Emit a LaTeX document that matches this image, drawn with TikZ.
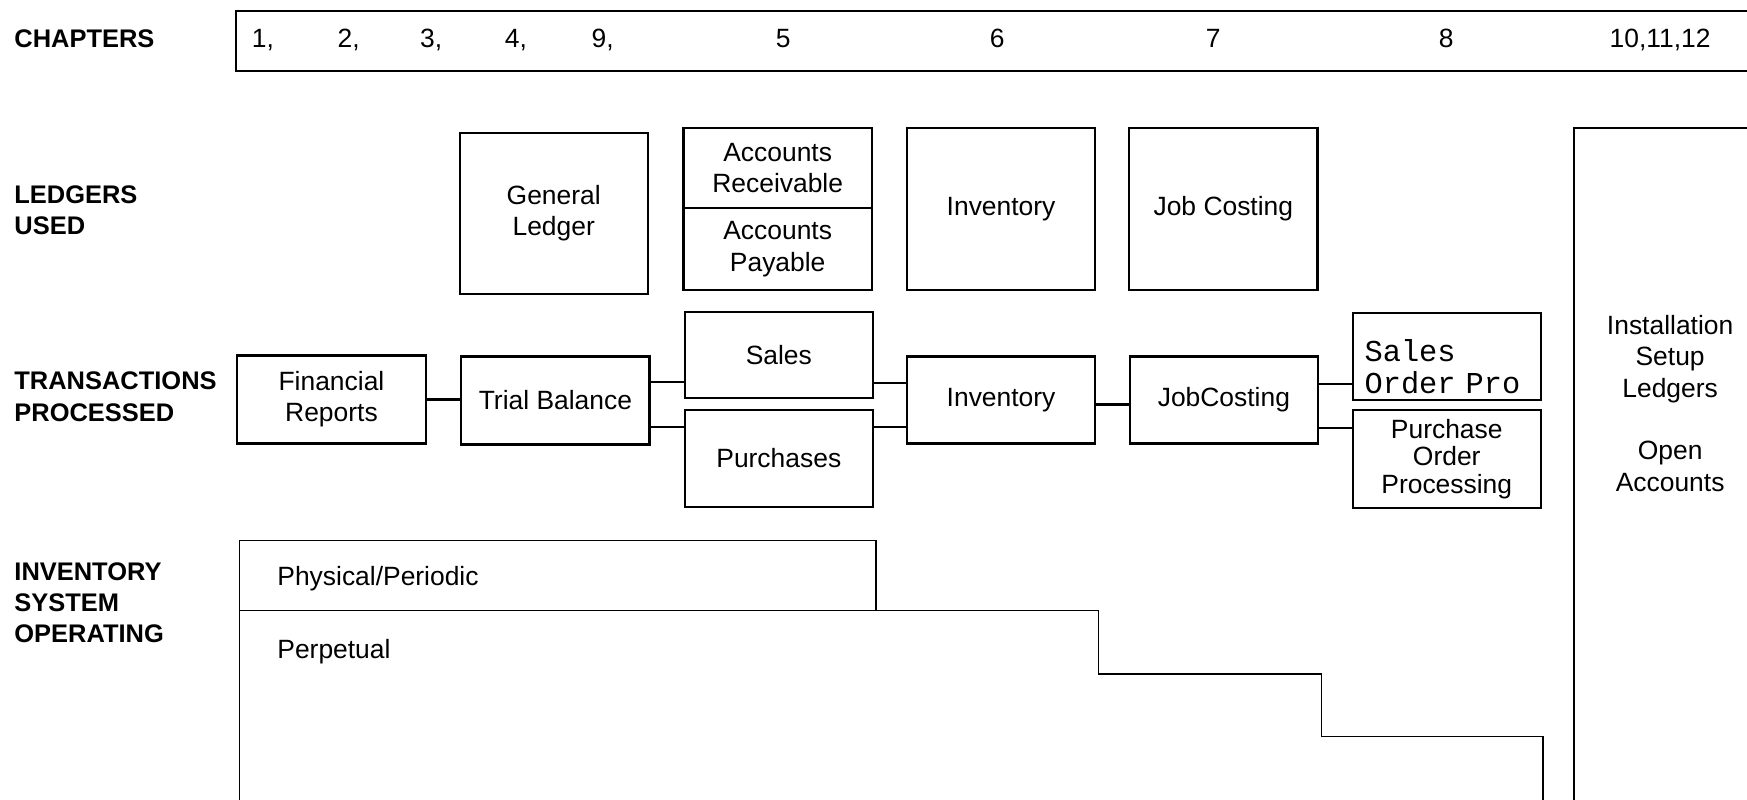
\documentclass[tikz,border=0pt]{standalone}
\usepackage{fontspec}
\setmainfont{Liberation Sans}
\newfontfamily\monofont{Liberation Mono}
\begin{document}
\begin{tikzpicture}[
    x=0.02cm, y=-0.02cm,
    line width=1.1pt,
    font=\fontsize{13.5}{16}\selectfont,
    box/.style={draw, minimum width=3.38cm, align=center, inner sep=0pt},
    rowlabel/.style={align=left, inner sep=0pt, font=\fontsize{13}{16}\selectfont\bfseries},
    chnum/.style={anchor=base, inner sep=0pt},
    outline/.style={line width=0.8pt}
]
    \useasboundingbox (0,0) rectangle (1568,718);
    \clip (0,0) rectangle (1568,718);

    % Row labels on the left
    \node[rowlabel, anchor=base west] (chapters) at (12,43) {CHAPTERS};
    \node[rowlabel, anchor=west] (ledgers) at (12,188.5) {LEDGERS\\USED};
    \node[rowlabel, anchor=west] (transactions) at (12,356) {TRANSACTIONS\\PROCESSED};
    \node[rowlabel, anchor=west] (invsystem) at (12,541) {INVENTORY\\SYSTEM\\OPERATING};

    % Chapter strip
    \draw (212,10) rectangle (1600,64);
    \node[chnum] (ch1) at (236,43) {1,};
    \node[chnum] (ch2) at (313,43) {2,};
    \node[chnum] (ch3) at (387,43) {3,};
    \node[chnum] (ch4) at (463,43) {4,};
    \node[chnum] (ch9) at (541,43) {9,};
    \node[chnum] (ch5) at (703,43) {5};
    \node[chnum] (ch6) at (895,43) {6};
    \node[chnum] (ch7) at (1089,43) {7};
    \node[chnum] (ch8) at (1298,43) {8};
    \node[chnum] (ch10) at (1490,43) {10,11,12};

    % Ledgers used
    \node[box, minimum height=2.9cm] (genledger) at (497,191.5) {General\\Ledger};
    \node[box, minimum height=1.44cm] (recv) at (698,151) {Accounts\\Receivable};
    \node[box, minimum height=1.46cm] (pay) at (698,223.5) {Accounts\\Payable};
    \node[box, minimum height=2.9cm] (invledger) at (898.5,187.5) {Inventory};
    \node[box, minimum height=2.9cm] (jobledger) at (1098,187.5) {Job Costing};

    % Transactions processed
    \node[box, minimum height=1.58cm] (finrep) at (297.5,358.5) {Financial\\Reports};
    \node[box, minimum height=1.58cm] (trial) at (498.5,359.5) {Trial Balance};
    \node[box, minimum height=1.54cm] (sales) at (699,318.5) {Sales};
    \node[box, minimum height=1.74cm] (purch) at (699,411.5) {Purchases};
    \node[box, minimum height=1.56cm] (invtrans) at (898.5,359) {Inventory};
    \node[box, minimum height=1.56cm] (jobtrans) at (1098.5,359) {JobCosting};
    \node[box, minimum height=1.56cm, align=left, text width=2.95cm, inner xsep=0.215cm,
          text height=5pt, text depth=0pt,
          font=\monofont\fontsize{15.5}{16.5}\selectfont] (salesorder) at (1298.5,320) {Sales\\Order Pro};
    \node[box, minimum height=1.76cm, font=\fontsize{13.5}{14}\selectfont] (purchorder) at (1298.5,412) {Purchase\\Order\\Processing};

    % Links between transactions
    \draw (finrep) -- (finrep -| trial.west);
    \draw ([yshift=0.33cm]trial.east) -- ([yshift=0.33cm]trial.east -| sales.west);
    \draw ([yshift=-0.47cm]trial.east) -- ([yshift=-0.47cm]trial.east -| purch.west);
    \draw ([yshift=0.3cm]invtrans.west) -- ([yshift=0.3cm]invtrans.west -| sales.east);
    \draw ([yshift=-0.48cm]invtrans.west) -- ([yshift=-0.48cm]invtrans.west -| purch.east);
    \draw ([yshift=-0.08cm]invtrans.east) -- ([yshift=-0.08cm]invtrans.east -| jobtrans.west);
    \draw ([yshift=0.28cm]jobtrans.east) -- ([yshift=0.28cm]jobtrans.east -| salesorder.west);
    \draw ([yshift=-0.5cm]jobtrans.east) -- ([yshift=-0.5cm]jobtrans.east -| purchorder.west);

    % Setup column
    \draw (1413,115) rectangle (1600,760);
    \node[align=center] (setup) at (1499,362) {Installation\\Setup\\Ledgers\\[16pt]Open\\Accounts};

    % Inventory system steps
    \draw[outline] (215,760) -- (215,485) -- (786,485) -- (786,548) -- (986,548) -- (986,605)
        -- (1186,605) -- (1186,661) -- (1385,661) -- (1385,760);
    \draw[outline] (215,548) -- (786,548);
    \node[anchor=west, inner sep=0pt] (periodic) at (248,519) {Physical/Periodic};
    \node[anchor=west, inner sep=0pt] (perpetual) at (248,585) {Perpetual};
\end{tikzpicture}
\end{document}
